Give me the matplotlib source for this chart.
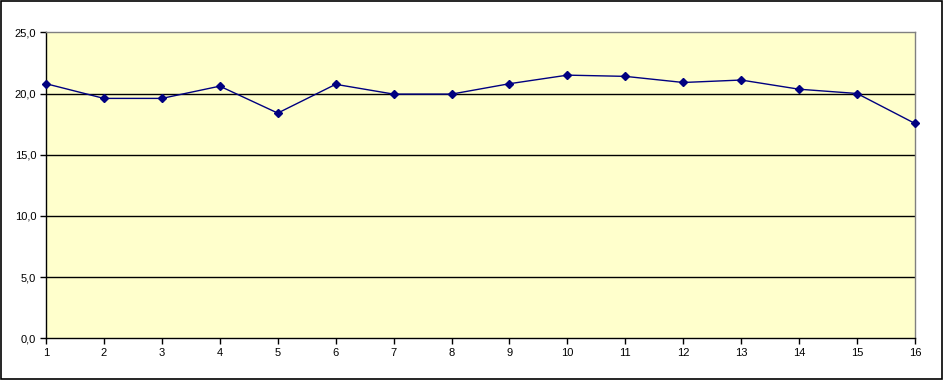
import matplotlib
matplotlib.use("Agg")
import matplotlib.pyplot as plt
from matplotlib.patches import Rectangle

x_values = list(range(1, 17))
y_values = [20.8, 19.6, 19.6, 20.6, 18.4, 20.75, 19.95, 19.95, 20.8, 21.5, 21.4, 20.9, 21.1, 20.35, 20.0, 17.55]
y_ticks = [0, 5, 10, 15, 20, 25]
y_tick_labels = ["0,0", "5,0", "10,0", "15,0", "20,0", "25,0"]

plt.rcParams['font.family'] = ['Liberation Sans', 'DejaVu Sans']

W, H = 944, 381
fig = plt.figure(figsize=(W/100, H/100), dpi=100)
ax = fig.add_axes([46/W, (H-338.3)/H, (915-46)/W, (338.3-32.3)/H])
ax.set_facecolor('#FFFFCC')

for yv in y_ticks[1:-1]:
    ax.axhline(yv, color='black', lw=1, zorder=1)

ax.plot(x_values, y_values, color='#000080', lw=1, marker='D', markersize=4.5,
        markerfacecolor='#000080', markeredgecolor='#000080', zorder=3, clip_on=False)

ax.set_xlim(1, 16)
ax.set_ylim(0, 25)
ax.set_xticks(x_values)
ax.set_xticklabels([str(v) for v in x_values], fontsize=8)
ax.set_yticks(y_ticks)
ax.set_yticklabels(y_tick_labels, fontsize=8)
ax.tick_params(axis='both', direction='out', length=4, width=1, color='black', pad=3)

ax.spines['left'].set_color('black')
ax.spines['bottom'].set_color('black')
ax.spines['top'].set_color('#808080')
ax.spines['right'].set_color('#808080')
for s in ax.spines.values():
    s.set_linewidth(1)

# outer chart frame
fig.patches.append(Rectangle((0.5/W, (H-379)/H), (941.5-0.5)/W, (379-1)/H, transform=fig.transFigure,
                             fill=False, edgecolor='black', lw=1.2))

fig.savefig('out.png', dpi=100)
